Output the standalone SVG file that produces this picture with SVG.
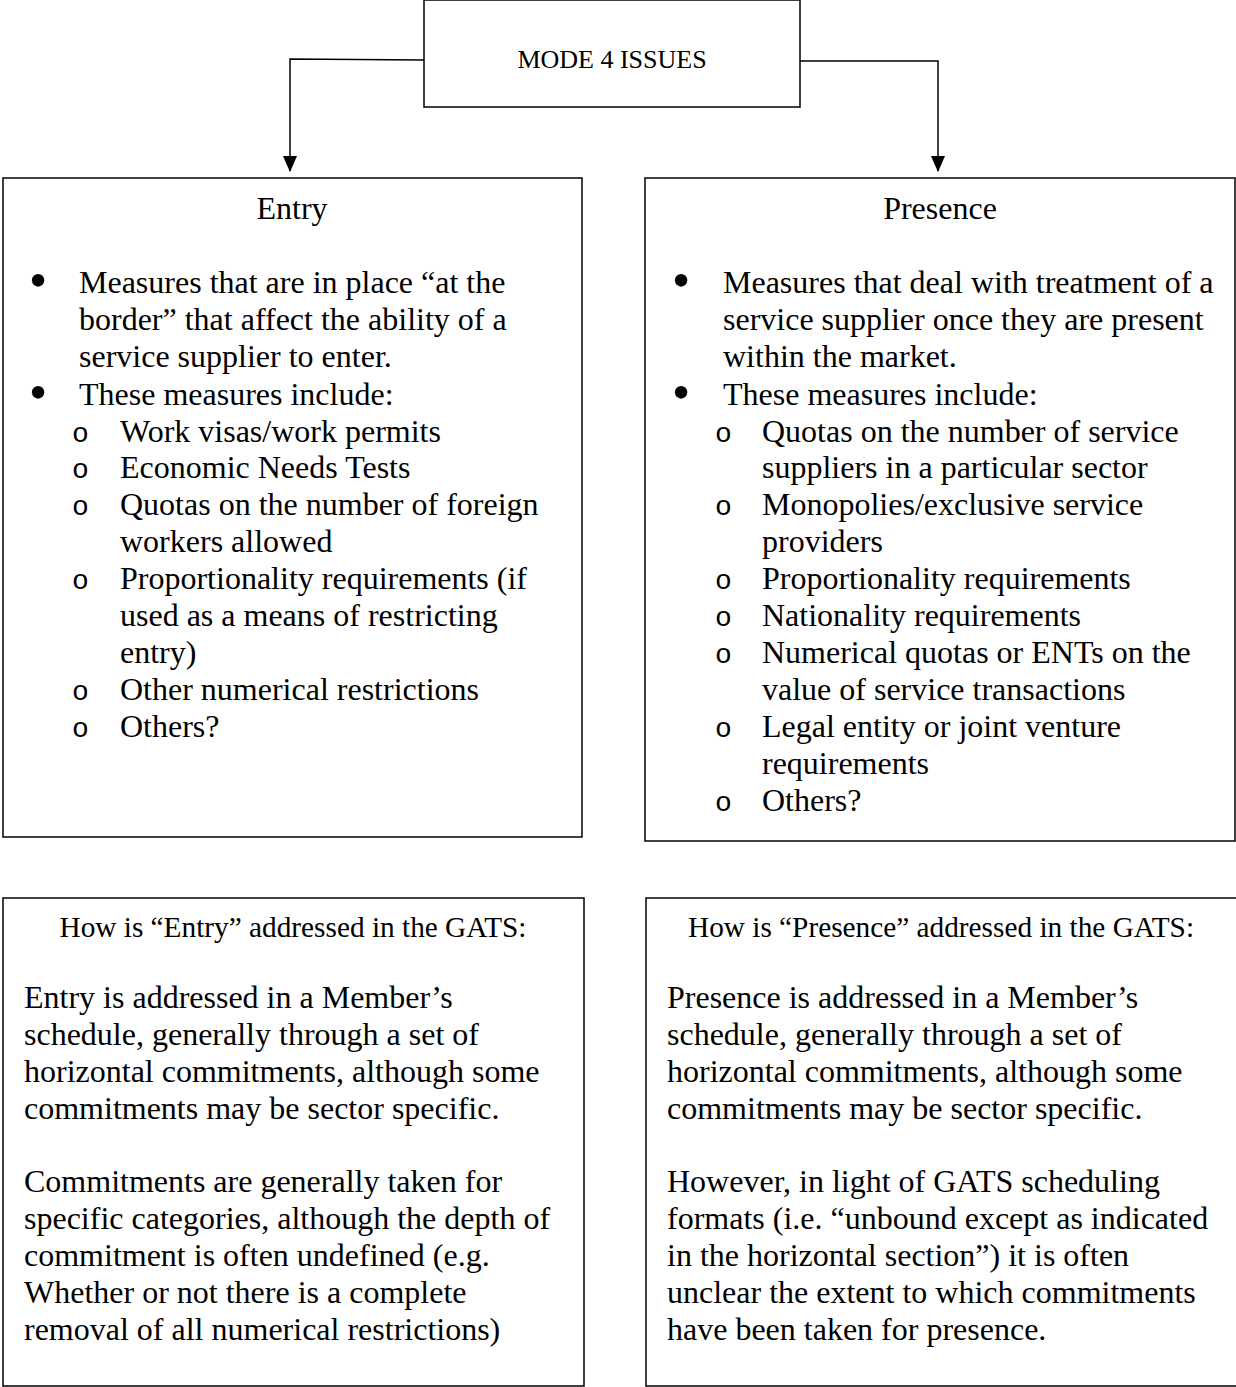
<svg xmlns="http://www.w3.org/2000/svg" width="1236" height="1387" viewBox="0 0 1236 1387">
<style>
.box{fill:#fff;stroke:#000;stroke-width:1.5}
.t{font-family:"Liberation Serif","Times New Roman",serif;font-size:32px;fill:#000}
.b{font-family:"Liberation Serif","Times New Roman",serif;font-size:52px;fill:#000;text-anchor:middle}
.h{font-family:"Liberation Serif","Times New Roman",serif;font-size:29.3px;fill:#000;text-anchor:middle}
.m{font-family:"Liberation Serif","Times New Roman",serif;font-size:26px;fill:#000;text-anchor:middle}
.ti{font-family:"Liberation Serif","Times New Roman",serif;font-size:32px;fill:#000;text-anchor:middle}
.o{font-family:"Liberation Mono","Courier New",monospace;font-size:28px;fill:#000}
.c{fill:none;stroke:#000;stroke-width:1.5}
</style>
<defs>
<marker id="arr" markerWidth="16" markerHeight="14" refX="15" refY="7" orient="auto" markerUnits="userSpaceOnUse" viewBox="0 0 16 14">
<path d="M0,0 L16,7 L0,14 z" fill="#000"/>
</marker>
</defs>
<rect width="1236" height="1387" fill="#fff"/>
<g id="connectors">
<path class="c" d="M424,60 L290,59 L290,171" marker-end="url(#arr)"/>
<path class="c" d="M800,61 L938,61 L938,171" marker-end="url(#arr)"/>
</g>
<g id="mode4">
<rect class="box" x="424" y="0" width="376" height="107"/>
<text class="m" x="612" y="68">MODE 4 ISSUES</text>
</g>
<g id="entry">
<rect class="box" x="3" y="178" width="579" height="659"/>
<text class="ti" x="292" y="219">Entry</text>
<text class="b" x="38" y="298">•</text>
<text class="t" x="79" y="293">Measures that are in place “at the</text>
<text class="t" x="79" y="330">border” that affect the ability of a</text>
<text class="t" x="79" y="367">service supplier to enter.</text>
<text class="b" x="38" y="410">•</text>
<text class="t" x="79" y="405">These measures include:</text>
<text class="o" x="72" y="442">o</text>
<text class="t" x="120" y="442">Work visas/work permits</text>
<text class="o" x="72" y="478">o</text>
<text class="t" x="120" y="478">Economic Needs Tests</text>
<text class="o" x="72" y="515">o</text>
<text class="t" x="120" y="515">Quotas on the number of foreign</text>
<text class="t" x="120" y="552">workers allowed</text>
<text class="o" x="72" y="589">o</text>
<text class="t" x="120" y="589">Proportionality requirements (if</text>
<text class="t" x="120" y="626">used as a means of restricting</text>
<text class="t" x="120" y="663">entry)</text>
<text class="o" x="72" y="700">o</text>
<text class="t" x="120" y="700">Other numerical restrictions</text>
<text class="o" x="72" y="737">o</text>
<text class="t" x="120" y="737">Others?</text>
</g>
<g id="presence">
<rect class="box" x="645" y="178" width="590" height="663"/>
<text class="ti" x="940" y="219">Presence</text>
<text class="b" x="681" y="298">•</text>
<text class="t" x="723" y="293">Measures that deal with treatment of a</text>
<text class="t" x="723" y="330">service supplier once they are present</text>
<text class="t" x="723" y="367">within the market.</text>
<text class="b" x="681" y="410">•</text>
<text class="t" x="723" y="405">These measures include:</text>
<text class="o" x="715" y="442">o</text>
<text class="t" x="762" y="442">Quotas on the number of service</text>
<text class="t" x="762" y="478">suppliers in a particular sector</text>
<text class="o" x="715" y="515">o</text>
<text class="t" x="762" y="515">Monopolies/exclusive service</text>
<text class="t" x="762" y="552">providers</text>
<text class="o" x="715" y="589">o</text>
<text class="t" x="762" y="589">Proportionality requirements</text>
<text class="o" x="715" y="626">o</text>
<text class="t" x="762" y="626">Nationality requirements</text>
<text class="o" x="715" y="663">o</text>
<text class="t" x="762" y="663">Numerical quotas or ENTs on the</text>
<text class="t" x="762" y="700">value of service transactions</text>
<text class="o" x="715" y="737">o</text>
<text class="t" x="762" y="737">Legal entity or joint venture</text>
<text class="t" x="762" y="774">requirements</text>
<text class="o" x="715" y="811">o</text>
<text class="t" x="762" y="811">Others?</text>
</g>
<g id="entry-gats">
<rect class="box" x="3" y="898" width="581" height="488"/>
<text class="h" x="293" y="937">How is “Entry” addressed in the GATS:</text>
<text class="t" x="24" y="1008">Entry is addressed in a Member’s</text>
<text class="t" x="24" y="1045">schedule, generally through a set of</text>
<text class="t" x="24" y="1082">horizontal commitments, although some</text>
<text class="t" x="24" y="1119">commitments may be sector specific.</text>
<text class="t" x="24" y="1192">Commitments are generally taken for</text>
<text class="t" x="24" y="1229">specific categories, although the depth of</text>
<text class="t" x="24" y="1266">commitment is often undefined (e.g.</text>
<text class="t" x="24" y="1303">Whether or not there is a complete</text>
<text class="t" x="24" y="1340">removal of all numerical restrictions)</text>
</g>
<g id="presence-gats">
<rect class="box" x="646" y="898" width="600" height="488"/>
<text class="h" x="941" y="937">How is “Presence” addressed in the GATS:</text>
<text class="t" x="667" y="1008">Presence is addressed in a Member’s</text>
<text class="t" x="667" y="1045">schedule, generally through a set of</text>
<text class="t" x="667" y="1082">horizontal commitments, although some</text>
<text class="t" x="667" y="1119">commitments may be sector specific.</text>
<text class="t" x="667" y="1192">However, in light of GATS scheduling</text>
<text class="t" x="667" y="1229">formats (i.e. “unbound except as indicated</text>
<text class="t" x="667" y="1266">in the horizontal section”) it is often</text>
<text class="t" x="667" y="1303">unclear the extent to which commitments</text>
<text class="t" x="667" y="1340">have been taken for presence.</text>
</g>
</svg>
